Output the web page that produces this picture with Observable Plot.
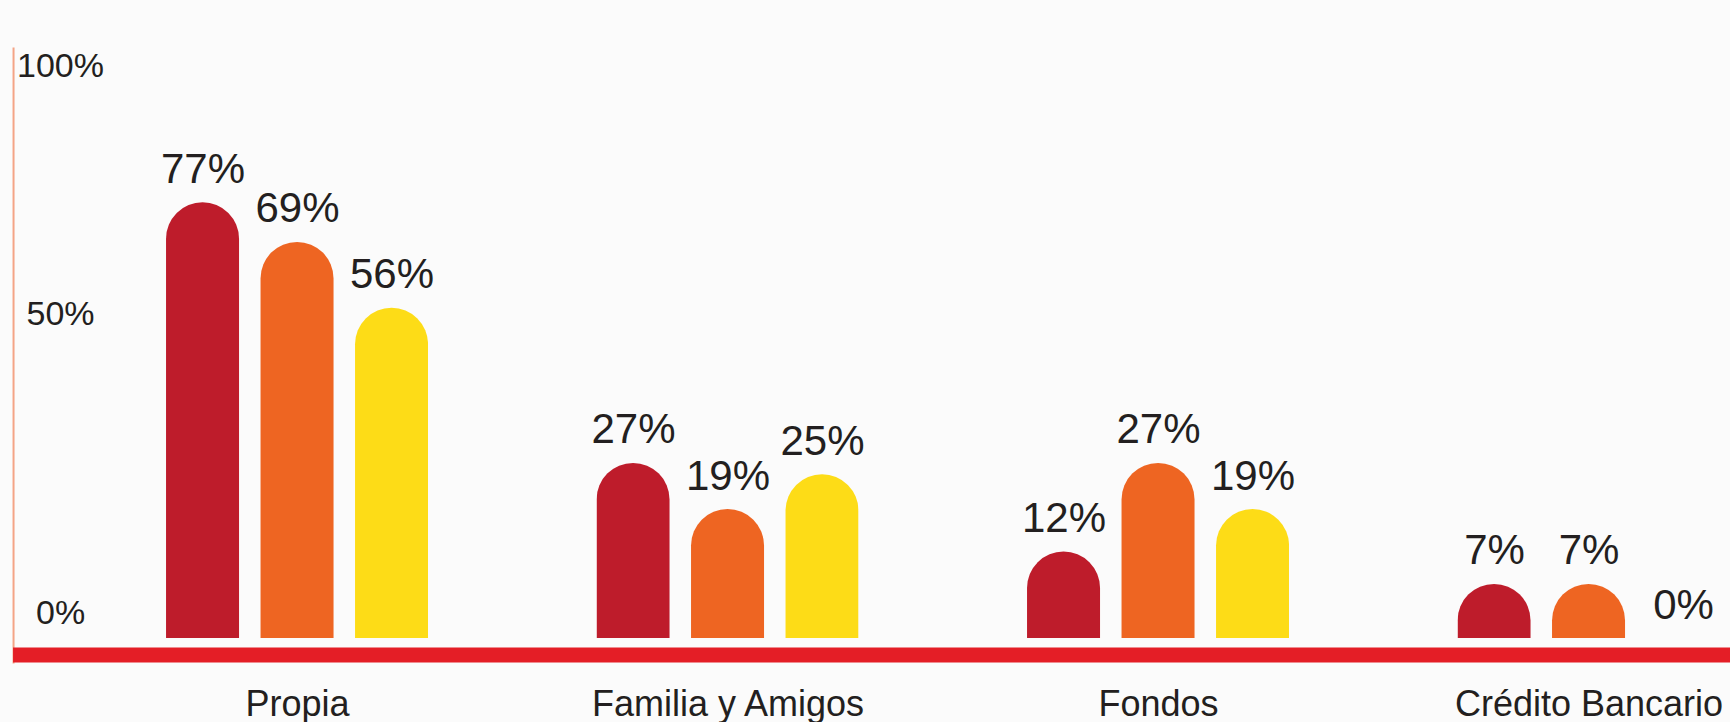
<!DOCTYPE html>
<html>
<head>
<meta charset="utf-8">
<script src="https://cdn.jsdelivr.net/npm/d3@7"></script>
<script src="https://cdn.jsdelivr.net/npm/@observablehq/plot@0.6"></script>
<style>
  html, body { margin: 0; padding: 0; background: #fbfbfb; }
  #chart svg { display: block; }
</style>
</head>
<body>
<div id="chart"></div>
<script>
// ---- data ----
const categories = ["Propia", "Familia y Amigos", "Fondos", "Crédito Bancario"];
const seriesNames = ["Serie 1", "Serie 2", "Serie 3"];
const serie1 = [77, 27, 12, 7];
const serie2 = [69, 19, 27, 7];
const serie3 = [56, 25, 19, 0];
const yTickValues = [0, 50, 100];
const yTickLabels = ["0%", "50%", "100%"];
const seriesColors = ["#be1c2b", "#ee6522", "#fddc17"];

const allSeries = [serie1, serie2, serie3];
const data = categories.flatMap((cat, i) =>
  allSeries.map((s, j) => ({cat, series: seriesNames[j], value: s[i]}))
);
const ticks = yTickValues.map((v, i) => ({v, label: yTickLabels[i]}));

const textColor = "#231f20";

const chart = Plot.plot({
  width: 1730,
  height: 722,
  marginLeft: 13,
  marginRight: 0,
  marginTop: 48,
  marginBottom: 84,
  style: {background: "#fbfbfb", fontFamily: "'Liberation Sans', Arial, sans-serif", color: textColor},
  fx: {domain: categories, paddingInner: 0.3914, paddingOuter: 0.1899, align: 0.936, round: false, axis: null, label: null},
  x: {domain: seriesNames, paddingInner: 0.2275, paddingOuter: 0, round: false, axis: null, label: null},
  y: {type: "pow", exponent: 0.87, domain: [0, 100], range: [638, 91], axis: null, label: null},
  color: {domain: seriesNames, range: seriesColors},
  marks: [
    // left axis line
    Plot.frame({anchor: "left", stroke: "#f4a486", strokeWidth: 2, insetBottom: -24, dx: -153, facet: "super"}),
    // bars with rounded tops (bottom rounding is clipped away by the frame)
    Plot.barY(data, {fx: "cat", x: "series", y: "value", fill: "series", rx: 36.5, insetBottom: -45, clip: true}),
    // value labels
    Plot.text(data, {fx: "cat", x: "series", y: "value", text: d => d.value + "%", lineAnchor: "bottom", dy: -20, fontSize: 42, fill: textColor}),
    // y tick labels (drawn once, beside the first group)
    Plot.text(ticks, {fx: () => categories[0], y: "v", text: "label", frameAnchor: "left", dx: -106, textAnchor: "middle", lineAnchor: "middle", dy: -25, fontSize: 34, fill: textColor}),
    // red baseline
    Plot.frame({anchor: "bottom", stroke: "#e41e26", strokeWidth: 15, insetBottom: -16.5, insetLeft: 7, insetRight: -200, dx: -153, facet: "super"}),
    // category labels
    Plot.text(categories, {fx: d => d, text: d => d, frameAnchor: "bottom", lineAnchor: "bottom", dy: 77, fontSize: 36, fill: textColor})
  ]
});
document.getElementById("chart").appendChild(chart);
</script>
</body>
</html>
